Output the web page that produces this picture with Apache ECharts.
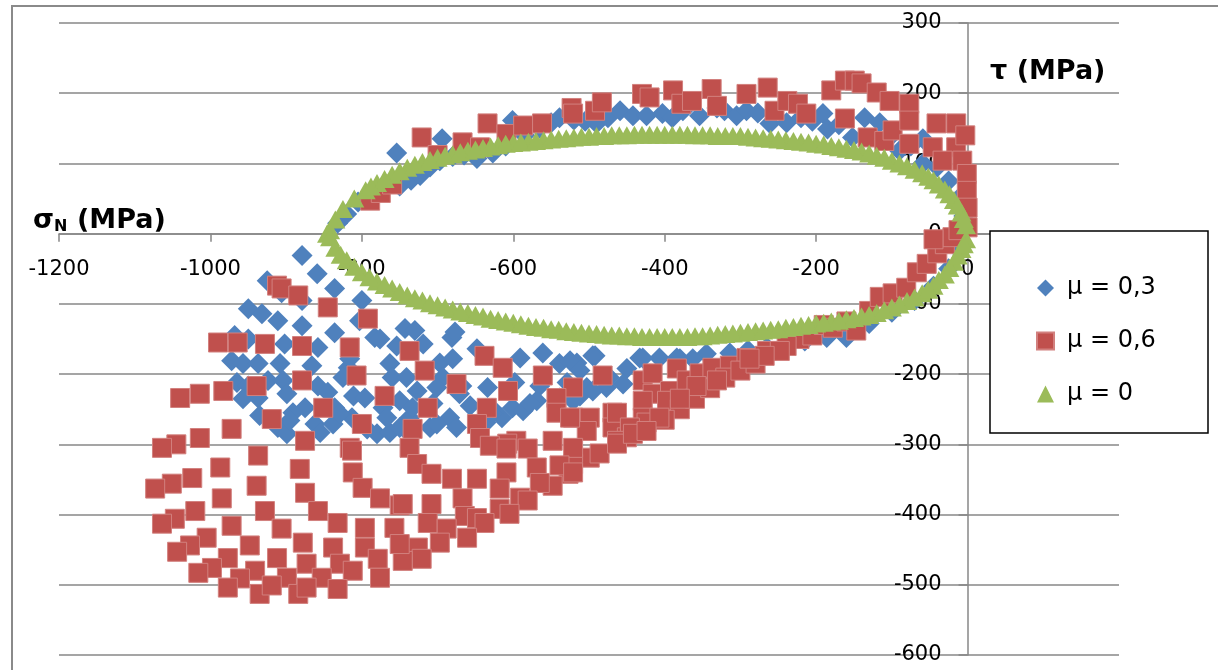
<!DOCTYPE html>
<html><head><meta charset="utf-8">
<script src="https://cdn.jsdelivr.net/npm/echarts@6/dist/echarts.min.js"></script>
<style>html,body{margin:0;padding:0;background:#fff}#c{width:1218px;height:670px}</style>
</head><body><div id="c"></div>
<script>
const seriesNames = ['μ = 0,3', 'μ = 0,6', 'μ = 0'];
const xTicks = [-1200, -1000, -800, -600, -400, -200, 0];
const yTicks = [-600, -500, -400, -300, -200, -100, 0, 100, 200, 300];
const xRange = [-1200, 200];
const yRange = [-600, 300];

// μ = 0,3 (blue diamonds)
const mu03 = [
 [-832,15],[-820,28],[-805,45],[-788,58],[-770,70],[-754,115],[-750,68],[-735,76],[-723,83],[-710,95],
 [-697,104],[-694,135],[-680,110],[-665,112],[-648,107],[-627,115],[-610,125],[-601,161],[-585,140],[-565,150],
 [-550,158],[-539,165],[-520,162],[-505,160],[-490,157],[-475,165],[-459,175],[-442,168],[-424,168],[-403,171],
 [-390,165],[-376,175],[-354,168],[-331,179],[-321,175],[-305,168],[-292,175],[-277,172],[-261,157],[-239,158],
 [-220,165],[-205,160],[-191,171],[-185,149],[-170,155],[-152,137],[-136,165],[-116,158],[-100,140],[-90,118],
 [-75,125],[-59,135],[-59,100],[-40,95],[-25,75],[-12,50],[-5,25],
 [-314,-170],[-290,-166],[-265,-162],[-240,-158],[-215,-153],[-186,-148],[-160,-148],[-130,-128],[-100,-112],
 [-70,-95],[-45,-75],[-25,-50],[-10,-25],
 [-879,-31],[-859,-57],[-836,-78],[-925,-67],[-906,-84],[-879,-95],[-800,-95],[-950,-107],[-932,-114],[-911,-124],
 [-879,-131],[-836,-141],[-783,-148],[-803,-124],[-968,-145],[-950,-150],[-902,-157],[-858,-162],[-754,-160],[-972,-181],
 [-957,-185],[-937,-185],[-908,-185],[-866,-188],[-818,-191],[-763,-185],[-965,-212],[-950,-217],[-924,-209],[-904,-209],
 [-858,-217],[-818,-202],[-760,-205],[-957,-235],[-937,-234],[-899,-228],[-875,-248],[-845,-226],[-811,-231],[-796,-234],
 [-935,-259],[-891,-255],[-836,-248],[-813,-262],[-772,-248],[-911,-276],[-862,-271],[-855,-283],[-838,-271],[-793,-278],
 [-780,-285],[-763,-283],[-899,-285],[-829,-256],[-895,-266],[-825,-205],[-816,-178],
 [-743,-135],[-730,-138],[-719,-157],[-681,-148],[-677,-140],[-648,-164],[-591,-177],[-561,-170],[-492,-174],[-539,-185],
 [-516,-184],[-433,-177],[-407,-177],[-380,-178],[-345,-171],[-697,-184],[-680,-178],[-741,-205],[-727,-224],[-693,-205],
 [-668,-217],[-634,-219],[-598,-212],[-565,-217],[-529,-212],[-503,-219],[-477,-219],[-450,-192],[-750,-238],[-706,-242],
 [-684,-262],[-657,-245],[-628,-249],[-601,-248],[-569,-238],[-539,-234],[-512,-231],[-737,-262],[-710,-276],[-675,-276],
 [-636,-269],[-615,-262],[-587,-252],[-737,-285],
 [-776,-150],[-701,-219],[-671,-228],[-578,-242],[-627,-256],[-701,-271],[-750,-276],[-767,-262],[-733,-248],
 [-525,-181],[-495,-174],[-512,-195],[-473,-205],[-429,-177],[-384,-177],[-363,-178],[-495,-224],[-521,-238],[-455,-214]
];

// μ = 0,6 (red squares)
const mu06 = [
 [-789,47],[-775,58],[-760,70],[-721,137],[-700,112],[-667,130],[-644,123],[-634,157],[-609,142],[-587,154],
 [-562,157],[-523,179],[-521,171],[-492,175],[-483,187],[-430,199],[-420,194],[-389,204],[-378,185],[-364,189],
 [-338,206],[-331,182],[-292,199],[-264,208],[-255,175],[-238,189],[-224,185],[-213,171],[-180,204],[-162,218],
 [-149,218],[-140,214],[-120,201],[-103,189],[-77,185],[-162,164],[-132,137],[-110,132],[-99,147],[-77,161],
 [-77,128],[-41,157],[-15,157],[-46,123],[-15,123],[-7,104],[-33,104],[-3,140],[-1,85],[-1,61],[0,37],[0,9],
 [-222,-150],[-205,-145],[-190,-130],[-178,-134],[-160,-125],[-147,-138],[-130,-110],[-116,-90],[-99,-85],[-81,-77],
 [-67,-55],[-54,-43],[-40,-28],[-30,-15],[-20,-5],[-45,-8],[-12,5],
 [-912,-74],[-906,-78],[-884,-88],[-845,-105],[-792,-121],[-990,-155],[-964,-155],[-928,-157],[-879,-160],[-816,-162],
 [-807,-202],[-879,-209],[-939,-217],[-983,-224],[-1014,-228],[-1040,-234],[-770,-231],[-851,-248],[-919,-264],[-972,-278],
 [-800,-271],[-1014,-291],[-1045,-300],[-1064,-305],[-875,-295],[-816,-305],
 [-937,-316],[-813,-309],[-987,-333],[-1024,-348],[-1051,-356],[-1073,-363],[-939,-359],[-882,-335],[-812,-340],[-875,-369],
 [-799,-362],[-776,-377],[-750,-387],[-985,-377],[-1020,-395],[-1047,-406],[-1064,-413],[-928,-395],[-858,-395],[-832,-412],
 [-972,-416],[-906,-420],[-796,-419],[-757,-419],[-1005,-433],[-1027,-444],[-1044,-453],[-948,-444],[-878,-440],[-838,-447],
 [-796,-447],[-779,-463],[-977,-462],[-912,-462],[-873,-470],[-829,-470],[-998,-476],[-1016,-483],[-941,-480],[-899,-490],
 [-853,-490],[-812,-480],[-776,-490],[-961,-491],[-977,-504],[-935,-513],[-884,-513],[-832,-506],[-919,-501],[-873,-504],
 [-737,-167],[-717,-195],[-675,-214],[-638,-174],[-614,-191],[-607,-224],[-561,-202],[-521,-219],[-482,-202],[-713,-248],
 [-733,-278],[-635,-248],[-543,-234],[-648,-271],[-543,-255],[-521,-262],[-499,-262],[-469,-255],[-429,-209],[-416,-199],
 [-384,-192],[-416,-228],[-393,-224],[-371,-209],[-354,-199],[-337,-191],[-314,-188],[-292,-177],[-265,-167],[-239,-160],
 [-429,-238],[-397,-238],[-429,-262],[-469,-276],[-503,-281],[-644,-291],[-596,-295],[-608,-299],[-548,-295],
 [-380,-250],[-360,-235],[-340,-220],[-320,-205],[-300,-195],[-280,-185],[-400,-265],[-450,-290],
 [-358,-217],[-331,-209],[-380,-235],[-424,-269],[-407,-262],[-463,-255],[-446,-276],[-463,-295],[-525,-262],[-499,-319],
 [-527,-342],[-521,-328],[-248,-167],[-268,-174],[-288,-178],
 [-631,-302],[-609,-306],[-581,-306],[-521,-305],[-486,-313],[-463,-299],[-442,-285],[-424,-281],[-737,-305],[-727,-328],
 [-708,-342],[-681,-349],[-648,-349],[-609,-340],[-569,-333],[-539,-330],[-521,-340],[-548,-359],[-565,-355],[-618,-363],
 [-591,-376],[-581,-380],[-618,-392],[-605,-399],[-667,-377],[-664,-402],[-648,-405],[-638,-412],[-661,-433],[-746,-385],
 [-708,-385],[-713,-412],[-688,-420],[-697,-440],[-726,-447],[-721,-463],[-746,-466],[-750,-442]
];

// μ = 0 (green triangles)
const mu0 = [
 [-846,0],
 [-842,5],[-835,20],[-825,35],[-810,50],[-795,62],[-780,72],[-760,84],[-740,94],[-720,102],[-700,108],
 [-680,113],[-660,118],[-640,122],[-620,126],[-600,129],[-580,131],[-560,133],[-540,135],[-520,137],[-500,138],
 [-480,139],[-460,140],[-440,141],[-420,141],[-400,141],[-380,141],[-360,140],[-340,140],[-320,139],[-300,139],
 [-280,137],[-260,135],[-240,133],[-220,131],[-200,128],[-180,125],[-160,121],[-140,117],[-120,111],[-100,104],
 [-80,96],[-60,86],[-45,76],[-30,63],[-18,48],[-8,30],[-2,12],
 [-788,67],[-770,78],[-750,89],[-730,98],[-710,105],[-690,111],[-670,116],[-650,120],[-630,124],[-610,128],
 [-590,130],[-570,132],[-550,134],[-530,136],[-510,138],[-490,139],[-470,140],[-450,140],[-430,141],[-410,141],
 [-390,141],[-370,141],[-350,140],[-330,139],[-310,139],[-290,138],[-270,136],[-250,134],[-230,132],[-210,130],
 [-190,127],[-170,123],[-150,119],[-130,114],[-110,108],[-90,100],[-70,91],[-52,81],[-38,70],[-24,56],[-13,40],[-5,21],
 [-842,-5],[-835,-20],[-820,-38],[-800,-55],[-780,-68],[-760,-78],[-740,-88],[-720,-95],[-700,-102],[-680,-108],
 [-660,-113],[-640,-118],[-620,-123],[-600,-127],[-580,-131],[-560,-134],[-540,-137],[-520,-140],[-500,-142],[-480,-144],
 [-460,-145],[-440,-146],[-420,-147],[-400,-147],[-380,-147],[-360,-146],[-340,-145],[-320,-143],[-300,-141],[-280,-139],
 [-260,-137],[-240,-134],[-220,-131],[-200,-128],[-180,-125],[-160,-122],[-140,-118],[-120,-113],[-100,-105],[-80,-96],
 [-60,-85],[-45,-74],[-30,-58],[-18,-40],[-8,-22],[-2,-8],
 [-828,-30],[-810,-47],[-790,-62],[-770,-73],[-750,-83],[-730,-92],[-710,-99],[-690,-105],[-670,-111],[-650,-116],
 [-630,-121],[-610,-125],[-590,-129],[-570,-133],[-550,-136],[-530,-139],[-510,-141],[-490,-143],[-470,-145],[-450,-146],
 [-430,-147],[-410,-147],[-390,-147],[-370,-147],[-350,-146],[-330,-144],[-310,-142],[-290,-140],[-270,-138],[-250,-136],
 [-230,-133],[-210,-130],[-190,-127],[-170,-124],[-150,-120],[-130,-116],[-110,-109],[-90,-101],[-70,-91],[-52,-80],
 [-38,-66],[-24,-49],[-13,-31],[-5,-15]
];

const W = 1218, H = 670;
const G = {left: 59, right: 99, top: 23, bottom: 15};
const gw = W - G.left - G.right, gh = H - G.top - G.bottom;
// place each axis on the other's zero (labels follow the axis line)
const xAxisOffset = -((0 - yRange[0]) / (yRange[1] - yRange[0])) * gh;
const yAxisOffset = -((0 - xRange[0]) / (xRange[1] - xRange[0])) * gw;

const chart = echarts.init(document.getElementById('c'), null, {renderer:'canvas'});
const axisGray = '#878787';
chart.setOption({
  animation: false,
  backgroundColor: '#ffffff',
  grid: {left: G.left, right: G.right, top: G.top, bottom: G.bottom, containLabel: false},
  xAxis: {
    type: 'value', min: xRange[0], max: xRange[1], interval: 200,
    position: 'bottom', offset: xAxisOffset,
    axisLine: {show: true, onZero: false, lineStyle: {color: axisGray, width: 1.5}},
    axisTick: {show: true, length: 8, lineStyle: {color: axisGray, width: 1.5}},
    splitLine: {show: false},
    axisLabel: {
      margin: 25, color: '#000', fontFamily: 'DejaVu Sans', fontSize: 21,
      formatter: v => (xTicks.indexOf(v) >= 0 ? String(v) : '')
    }
  },
  yAxis: {
    type: 'value', min: yRange[0], max: yRange[1], interval: 100,
    position: 'left', offset: yAxisOffset,
    axisLine: {show: true, onZero: false, lineStyle: {color: axisGray, width: 1.5}},
    axisTick: {show: true, length: 9, lineStyle: {color: axisGray, width: 1.5}},
    splitLine: {show: true, lineStyle: {color: axisGray, width: 1.5}},
    axisLabel: {
      margin: 26, color: '#000', fontFamily: 'DejaVu Sans', fontSize: 21,
      formatter: v => (yTicks.indexOf(v) >= 0 ? String(v) : '')
    }
  },
  legend: {
    orient: 'vertical', left: 1031, top: 268, z: 10,
    itemWidth: 17, itemHeight: 17, itemGap: 23,
    textStyle: {fontFamily: 'DejaVu Sans', fontSize: 24, color: '#000', lineHeight: 30, padding: [0,0,0,8]},
    data: seriesNames
  },
  graphic: [
    {type: 'rect', z: -1, silent: true, shape: {x: 12, y: 6, width: 1230, height: 700},
     style: {fill: 'transparent', stroke: '#8a8a8a', lineWidth: 2}},
    {type: 'rect', z: 8, silent: true, shape: {x: 990, y: 231, width: 218, height: 202},
     style: {fill: '#ffffff', stroke: '#000000', lineWidth: 1.5}},
    {type: 'text', z: 9, style: {text: 'σ', x: 33, y: 221, verticalAlign: 'middle', font: 'bold 27px "DejaVu Sans"', fill: '#000'}},
    {type: 'text', z: 9, style: {text: 'N', x: 54, y: 227, verticalAlign: 'middle', font: 'bold 16px "DejaVu Sans"', fill: '#000'}},
    {type: 'text', z: 9, style: {text: '(MPa)', x: 77, y: 221, verticalAlign: 'middle', font: 'bold 27px "DejaVu Sans"', fill: '#000'}},
    {type: 'text', z: 9, style: {text: 'τ (MPa)', x: 990, y: 72, verticalAlign: 'middle', font: 'bold 27px "DejaVu Sans"', fill: '#000'}}
  ],
  series: [
    {name: seriesNames[0], type: 'scatter', data: mu03, symbol: 'diamond', symbolSize: 21,
     itemStyle: {color: '#4F81BD', opacity: 1}},
    {name: seriesNames[1], type: 'scatter', data: mu06, symbol: 'rect', symbolSize: 19,
     itemStyle: {color: '#C0504D', borderColor: '#D2807E', borderWidth: 1, opacity: 1}},
    {name: seriesNames[2], type: 'scatter', data: mu0, symbol: 'triangle', symbolSize: [20, 18],
     itemStyle: {color: '#9BBB59', opacity: 1}}
  ]
});
</script></body></html>
